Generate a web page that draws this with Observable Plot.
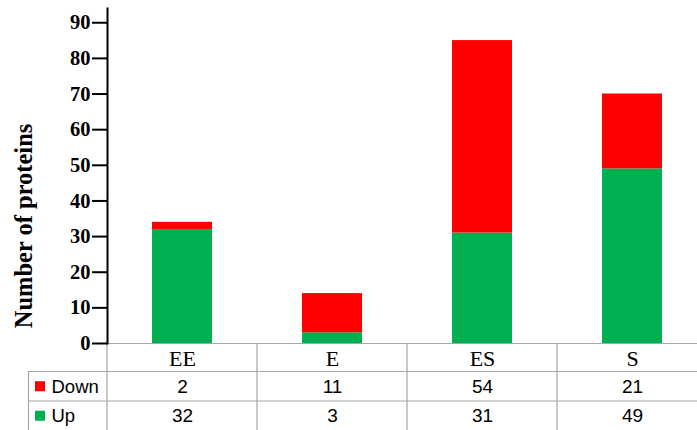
<!DOCTYPE html>
<html>
<head>
<meta charset="utf-8">
<script src="https://cdn.jsdelivr.net/npm/d3@7"></script>
<script src="https://cdn.jsdelivr.net/npm/@observablehq/plot@0.6"></script>
<style>
  html, body { margin: 0; padding: 0; background: #fff; }
  svg { display: block; }
</style>
</head>
<body>
<div id="chart"></div>
<script>
const categories = ["EE", "E", "ES", "S"];
const upValues = [32, 3, 31, 49];
const downValues = [2, 11, 54, 21];
const seriesNames = ["Down", "Up"];
const seriesColors = ["#FF0000", "#00B050"];
const yTicks = [0, 10, 20, 30, 40, 50, 60, 70, 80, 90];
const yLabel = "Number of proteins";

const data = categories.flatMap((c, i) => [
  {cat: c, series: "Up", value: upValues[i]},
  {cat: c, series: "Down", value: downValues[i]}
]);

const W = 697, H = 430;
const mTop = 8, mBottom = 87, mLeft = 107, mRight = -10;
const rowH = [28.5, 29.5, 29.5];
const serif = "'Liberation Serif', 'Times New Roman', serif";
const sans = "'Liberation Sans', Arial, sans-serif";

const valuesBySeries = {Down: downValues, Up: upValues};
const tableRows = seriesNames.map((s) => categories.map((c, i) => ({cat: c, v: valuesBySeries[s][i]})));

const plot = Plot.plot({
  width: W,
  height: H,
  marginTop: mTop,
  marginBottom: mBottom,
  marginLeft: mLeft,
  marginRight: mRight,
  style: {background: "#fff", overflow: "visible"},
  x: {domain: categories, paddingInner: 0.6, paddingOuter: 0.3, axis: null},
  y: {domain: [0, 94]},
  color: {domain: seriesNames, range: seriesColors},
  marks: [
    Plot.barY(data, Plot.stackY({x: "cat", y: "value", fill: "series", order: ["Up", "Down"]})),
    Plot.axisY({
      ticks: yTicks,
      tickSize: 15,
      tickPadding: 2,
      strokeWidth: 2,
      stroke: "#000",
      fontFamily: serif,
      fontWeight: "bold",
      fontSize: 20.5,
      color: "#000",
      label: null
    }),
    Plot.frame({anchor: "left", stroke: "#000", strokeWidth: 2}),
    Plot.text([yLabel], {
      frameAnchor: "left",
      textAnchor: "middle",
      lineAnchor: "middle",
      dx: -83,
      dy: 50,
      rotate: -90,
      text: d => d,
      fontFamily: serif,
      fontWeight: "bold",
      fontSize: 24.5,
      fill: "#000"
    }),
    Plot.text(categories, {
      x: d => d,
      text: d => d,
      frameAnchor: "bottom",
      lineAnchor: "middle",
      dy: rowH[0] / 2 + 1,
      fontFamily: serif,
      fontSize: 22,
      fill: "#000"
    }),
    Plot.text(tableRows[0], {
      x: "cat",
      text: "v",
      frameAnchor: "bottom",
      lineAnchor: "middle",
      dy: rowH[0] + rowH[1] / 2,
      fontFamily: sans,
      fontSize: 19,
      fill: "#000"
    }),
    Plot.text(tableRows[1], {
      x: "cat",
      text: "v",
      frameAnchor: "bottom",
      lineAnchor: "middle",
      dy: rowH[0] + rowH[1] + rowH[2] / 2,
      fontFamily: sans,
      fontSize: 19,
      fill: "#000"
    }),
    Plot.text([seriesNames[0]], {
      text: d => d,
      frameAnchor: "bottom-left",
      textAnchor: "start",
      lineAnchor: "middle",
      dx: -56,
      dy: rowH[0] + rowH[1] / 2,
      fontFamily: sans,
      fontSize: 18.5,
      fill: "#000"
    }),
    Plot.text([seriesNames[1]], {
      text: d => d,
      frameAnchor: "bottom-left",
      textAnchor: "start",
      lineAnchor: "middle",
      dx: -56,
      dy: rowH[0] + rowH[1] + rowH[2] / 2,
      fontFamily: sans,
      fontSize: 18.5,
      fill: "#000"
    })
  ]
});

// Table grid lines derived from the x scale
const xs = plot.scale("x");
const step = xs.step;
const svg = d3.select(plot);
const bottom = H - mBottom;
const tableLeft = 28;
const y1 = bottom + rowH[0];
const y2 = y1 + rowH[1];
const g = svg.insert("g", ":first-child").attr("stroke", "#A6A6A6").attr("stroke-width", 1.2);
g.append("line").attr("x1", mLeft).attr("x2", W).attr("y1", bottom + 0.5).attr("y2", bottom + 0.5);
[y1, y2].forEach(y => g.append("line").attr("x1", tableLeft).attr("x2", W).attr("y1", y).attr("y2", y));
categories.forEach(c => {
  const bx = xs.apply(c) + xs.bandwidth / 2 - step / 2;
  g.append("line").attr("x1", bx).attr("x2", bx).attr("y1", bottom).attr("y2", H);
});
g.append("line").attr("x1", tableLeft + 0.5).attr("x2", tableLeft + 0.5).attr("y1", y1).attr("y2", H);

// legend swatches in the row headers
seriesNames.forEach((s, i) => {
  const cy = bottom + rowH[0] + rowH[1] * i + rowH[1] / 2;
  svg.append("rect").attr("x", 35).attr("y", cy - 5).attr("width", 10).attr("height", 10).attr("fill", seriesColors[i]);
});

document.getElementById("chart").appendChild(plot);
</script>
</body>
</html>
